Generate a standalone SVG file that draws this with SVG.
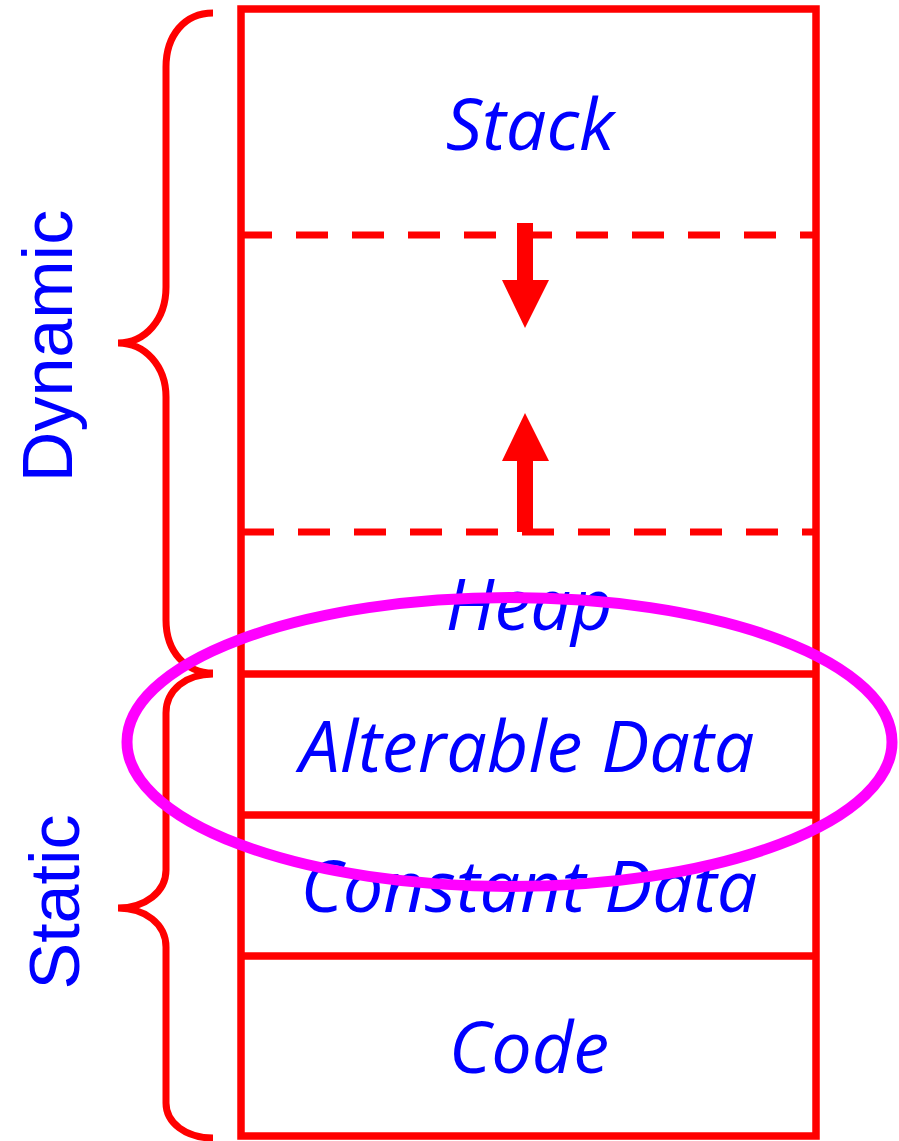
<svg xmlns="http://www.w3.org/2000/svg" width="899" height="1141" viewBox="0 0 899 1141">
  <style>
    .wall { fill: none; stroke: #FF0000; stroke-width: 7.5; }
    .dash { fill: none; stroke: #FF0000; stroke-width: 7; stroke-dasharray: 32 24; }
    .brace { fill: none; stroke: #FF0000; stroke-width: 7; }
    .seg { font-family: "Open Sans", "Noto Sans", sans-serif; font-style: italic; font-size: 72px; fill: #0000FF; text-anchor: middle; }
    .side { font-family: "Liberation Sans", Arial, sans-serif; font-size: 70px; fill: #0000FF; text-anchor: middle; }
    .arrow { fill: #FF0000; }
  </style>

  <!-- memory layout column -->
  <g id="stack">
    <rect class="wall" x="241" y="9" width="575" height="1127"/>
    <text class="seg" x="530" y="150">Stack</text>
  </g>
  <g id="free-space">
    <line class="dash" x1="240" y1="235" x2="816" y2="235"/>
    <line class="dash" x1="242" y1="532" x2="816" y2="532"/>
  </g>
  <g id="heap">
    <text class="seg" x="529" y="630">Heap</text>
  </g>
  <g id="alterable-data">
    <line class="wall" x1="241" y1="674" x2="816" y2="674"/>
    <text class="seg" x="527" y="772">Alterable Data</text>
  </g>
  <g id="constant-data">
    <line class="wall" x1="241" y1="815" x2="816" y2="815"/>
    <text class="seg" x="529" y="912">Constant Data</text>
  </g>
  <g id="code">
    <line class="wall" x1="241" y1="956" x2="816" y2="956"/>
    <text class="seg" x="529" y="1073">Code</text>
  </g>

  <!-- growth arrows -->
  <g id="connectors">
    <polygon class="arrow" points="517,223 533,223 533,280 549,280 525,328 502,280 517,280"/>
    <polygon class="arrow" points="525,413 549,461 533,461 533,532 517,532 517,461 502,461"/>
  </g>

  <!-- region braces -->
  <g id="dynamic-brace">
    <path class="brace" d="M213,13 C184,13 166,36 166,67 L166,287 C166,320 145,343 118,343 C145,343 166,366 166,397 L166,620 C166,652 186,673 213,673"/>
    <text class="side" transform="translate(72,346) rotate(-90)" x="0" y="0">Dynamic</text>
  </g>
  <g id="static-brace">
    <path class="brace" d="M213,674 C186,674 166,690 166,713 L166,870 C166,892 145,908 118,908 C145,908 166,924 166,947 L166,1103 C166,1123 186,1138 213,1138"/>
    <text class="side" transform="translate(79,902) rotate(-90)" x="0" y="0" font-size="71">Static</text>
  </g>

  <!-- highlight -->
  <g id="highlight">
    <ellipse cx="509.5" cy="742" rx="382.5" ry="144.5" fill="none" stroke="#FF00FF" stroke-width="11"/>
  </g>
</svg>
